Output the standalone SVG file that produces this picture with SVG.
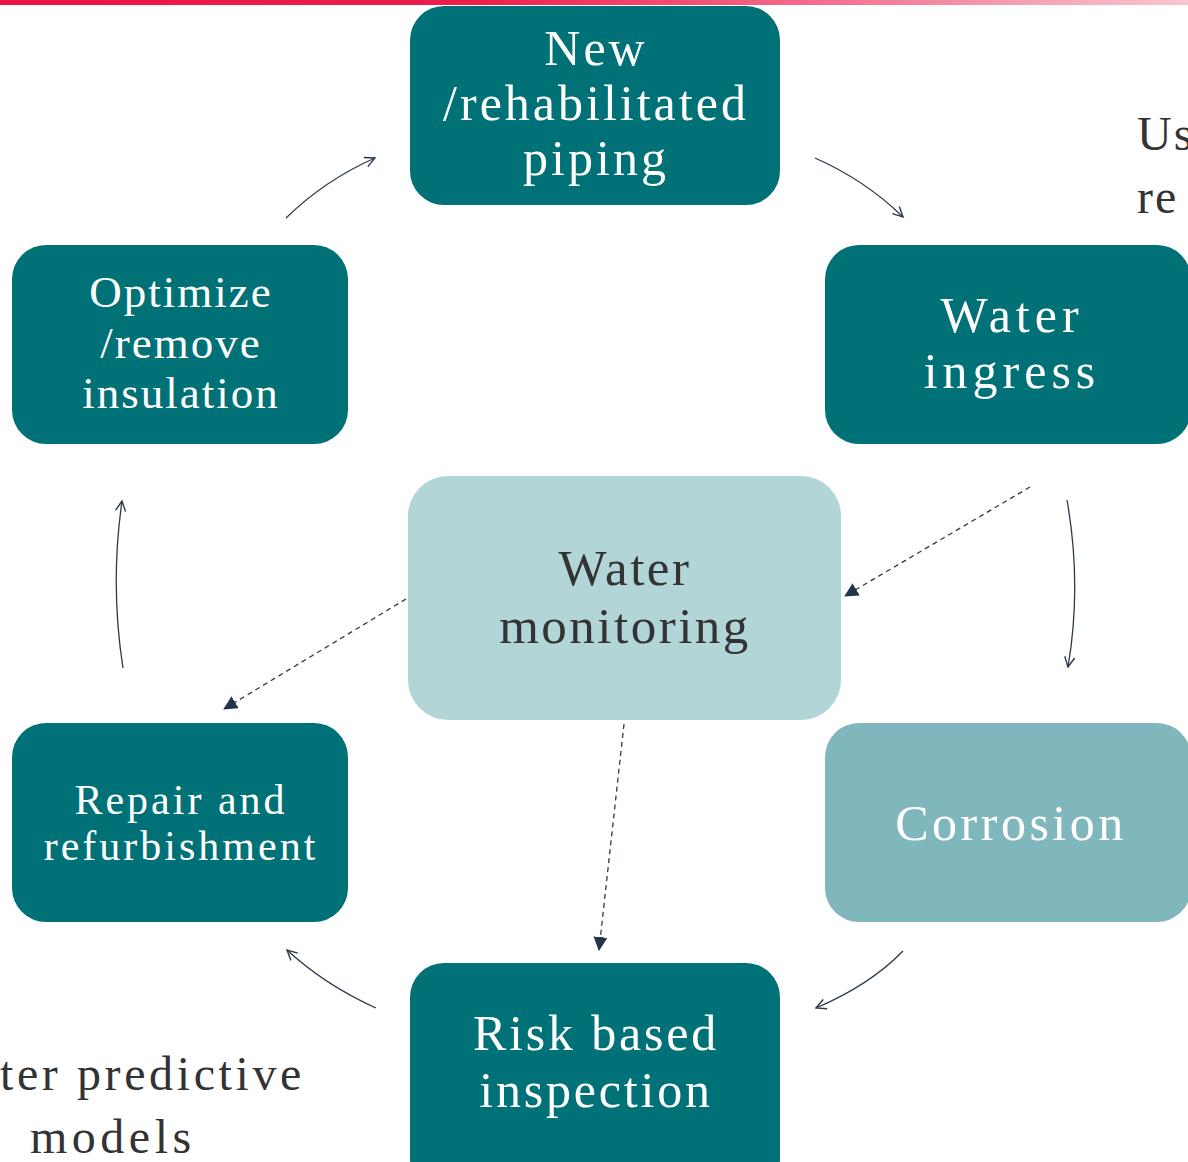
<svg xmlns="http://www.w3.org/2000/svg" width="1188" height="1162" viewBox="0 0 1188 1162">
<defs>
<linearGradient id="bar" x1="0" y1="0" x2="1" y2="0">
<stop offset="0" stop-color="#EC1346"/>
<stop offset="0.4" stop-color="#EE1D4E"/>
<stop offset="1" stop-color="#F9C6D1"/>
</linearGradient>
<marker id="open" viewBox="0 0 12 12" refX="11" refY="6" markerWidth="12" markerHeight="12" markerUnits="userSpaceOnUse" orient="auto">
<path d="M1,1 L11,6 L1,11" fill="none" stroke="#2B3A4A" stroke-width="1.4"/>
</marker>
<marker id="tri" viewBox="0 0 14 14" refX="13" refY="7" markerWidth="14" markerHeight="14" markerUnits="userSpaceOnUse" orient="auto">
<path d="M0,0 L14,7 L0,14 Z" fill="#22344A"/>
</marker>
</defs>
<style>
.dark{fill:#007176}
.light{fill:#B2D5D8}
.mid{fill:#80B7BC}
.t{font-family:"Liberation Serif","Times New Roman",serif;text-anchor:middle;fill:#FFFFFF}
.td{font-family:"Liberation Serif","Times New Roman",serif;text-anchor:middle;fill:#333333}
.bg{font-family:"Liberation Serif","Times New Roman",serif;fill:#333333;font-size:48px}
.c{fill:none;stroke:#2B3A4A;stroke-width:1.3}
.d{fill:none;stroke:#2B3A4A;stroke-width:1.3;stroke-dasharray:5 4}
</style>
<rect x="0" y="0" width="1188" height="5" fill="url(#bar)"/>
<g id="bg-text">
<text class="bg" x="1137" y="150" letter-spacing="2">Us</text>
<text class="bg" x="1137" y="213" letter-spacing="2">re</text>
<text class="bg" x="0" y="1090" letter-spacing="3.6">ter predictive</text>
<text class="bg" x="30" y="1153" letter-spacing="4.5">models</text>
</g>
<g id="connectors">
<path class="c" d="M286,218 Q325,180 375,158" marker-end="url(#open)"/>
<path class="c" d="M815,158 Q865,180 903,217" marker-end="url(#open)"/>
<path class="c" d="M1067,500 Q1082,585 1068,667" marker-end="url(#open)"/>
<path class="c" d="M903,951 Q870,985 816,1008" marker-end="url(#open)"/>
<path class="c" d="M376,1008 Q325,985 287,950" marker-end="url(#open)"/>
<path class="c" d="M123,668 Q110,585 122,501" marker-end="url(#open)"/>
<path class="d" d="M1030,487 L845,596" marker-end="url(#tri)"/>
<path class="d" d="M406,599 L224,709" marker-end="url(#tri)"/>
<path class="d" d="M624,724 L599,950" marker-end="url(#tri)"/>
</g>
<g id="node-new-piping">
<rect class="dark" x="410" y="6" width="370" height="199" rx="34"/>
<text class="t" font-size="50" letter-spacing="3"><tspan x="596" y="65">New</tspan><tspan x="596" y="120">/rehabilitated</tspan><tspan x="596" y="175">piping</tspan></text>
</g>
<g id="node-water-ingress">
<rect class="dark" x="825" y="245" width="366" height="199" rx="34"/>
<text class="t" font-size="50" letter-spacing="5"><tspan x="1012" y="332">Water</tspan><tspan x="1012" y="388">ingress</tspan></text>
</g>
<g id="node-optimize">
<rect class="dark" x="12" y="245" width="336" height="199" rx="34"/>
<text class="t" font-size="45" letter-spacing="2"><tspan x="181" y="307">Optimize</tspan><tspan x="181" y="358">/remove</tspan><tspan x="181" y="408">insulation</tspan></text>
</g>
<g id="node-water-monitoring">
<rect class="light" x="408" y="476" width="433" height="244" rx="40"/>
<text class="td" font-size="51" letter-spacing="2.5"><tspan x="625" y="585">Water</tspan><tspan x="625" y="643">monitoring</tspan></text>
</g>
<g id="node-repair">
<rect class="dark" x="12" y="723" width="336" height="199" rx="34"/>
<text class="t" font-size="42" letter-spacing="3"><tspan x="181" y="814">Repair and</tspan><tspan x="181" y="860">refurbishment</tspan></text>
</g>
<g id="node-corrosion">
<rect class="mid" x="825" y="723" width="366" height="199" rx="34"/>
<text class="t" font-size="50" letter-spacing="3.5"><tspan x="1011" y="840">Corrosion</tspan></text>
</g>
<g id="node-rbi">
<rect class="dark" x="410" y="963" width="370" height="230" rx="34"/>
<text class="t" font-size="50" letter-spacing="2.8"><tspan x="596" y="1050">Risk based</tspan><tspan x="596" y="1107">inspection</tspan></text>
</g>
</svg>
